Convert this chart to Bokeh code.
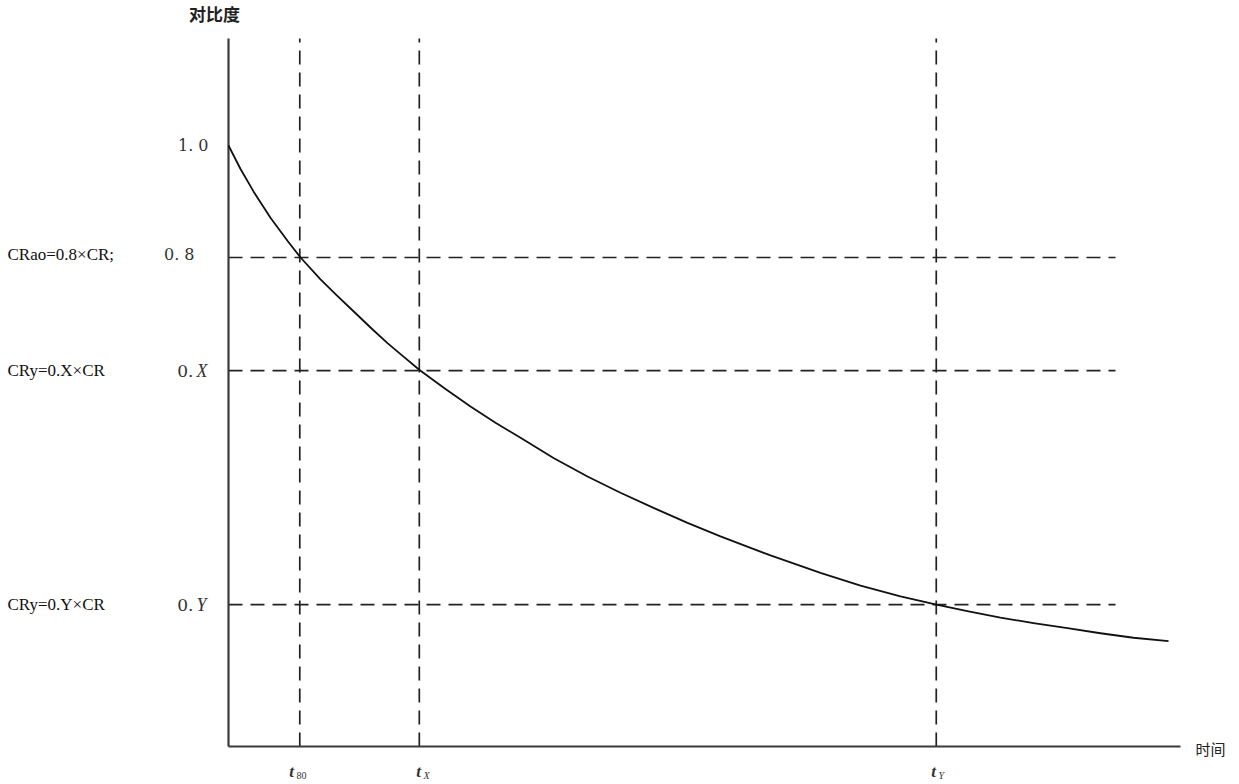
from bokeh.plotting import figure
from bokeh.models import Range1d
from bokeh.core.properties import value
from bokeh.embed import file_html
from bokeh.resources import INLINE

# ---- data ----
curve_t = [0.0, 0.167, 0.347, 0.583, 0.819, 1.0, 1.278, 1.5, 1.736, 1.972, 2.208, 2.431,
           2.653, 3.014, 3.361, 3.708, 4.056, 4.514, 4.986, 5.444, 5.903, 6.375, 6.833,
           7.528, 8.222, 8.778, 9.333, 9.833, 10.278, 10.722, 11.181, 11.653, 12.111,
           12.569, 13.056]
curve_c = [1.0, 0.958, 0.918, 0.871, 0.830, 0.800, 0.761, 0.733, 0.704, 0.675, 0.647,
           0.623, 0.599, 0.565, 0.534, 0.505, 0.478, 0.442, 0.409, 0.380, 0.353, 0.326,
           0.302, 0.268, 0.237, 0.214, 0.195, 0.180, 0.168, 0.157, 0.147, 0.138, 0.129,
           0.121, 0.115]
level_values = [0.8, 0.598, 0.180]          # 0.8, 0.X, 0.Y
level_tick_main = ["0. 8", "0.", "0."]
level_tick_ital = ["", "X", "Y"]
level_names = ["CRao=0.8×CR;", "CRy=0.X×CR", "CRy=0.Y×CR"]
time_values = [0.99, 2.65, 9.83]        # t80, tX, tY
time_subs = ["80", "X", "Y"]
top_label = "1. 0"
x_title = "时间"
y_title = "对比度"

# ---- layout helpers (picture pixel -> data) ----
def dx(px):
    return (px - 228) / 72.0

def dy(py):
    return 1.0 - (py - 145) / 560.0

W, H = 1239, 784
p = figure(width=W, height=H, output_backend="svg", toolbar_location=None,
           x_range=Range1d(dx(0), dx(W)), y_range=Range1d(dy(H), dy(0)),
           min_border=0, outline_line_color=None)
p.axis.visible = False
p.grid.visible = False
p.background_fill_color = "white"

y_axis_bottom = dy(746)
y_axis_top = dy(38)

# dashed guide lines
for v in level_values:
    p.line([0, dx(1115)], [v, v], line_color="#222222", line_width=1.7, line_dash="14 8")
for t in time_values:
    p.line([t, t], [y_axis_bottom, y_axis_top], line_color="#222222", line_width=1.7,
           line_dash="14 8")

# axes
p.line([0, 0], [y_axis_bottom, y_axis_top], line_color="#3a3a3a", line_width=2.2)
p.line([0, dx(1180)], [y_axis_bottom, y_axis_bottom], line_color="#3a3a3a", line_width=2.2)

# curve
p.line(curve_t, curve_c, line_color="#111111", line_width=1.8, line_join="round")

serif = value("DejaVu Serif")
times = value("Liberation Serif")

# tick labels on y
p.text([dx(208)], [1.0], text=[top_label], text_font=serif, text_font_size="16px",
       text_align="right", text_baseline="middle", text_color="#333333")
p.text([dx(194)], [dy(254)], text=[level_tick_main[0]], text_font=serif,
       text_font_size="16px", text_align="right", text_baseline="middle", text_color="#333333")
for i in (1, 2):
    v = level_values[i]
    p.text([dx(193)], [v], text=[level_tick_main[i]], text_font=serif, text_font_size="17px",
           text_align="right", text_baseline="middle", text_color="#333333")
    p.text([dx(196)], [v], text=[level_tick_ital[i]], text_font=times, text_font_size="18px",
           text_font_style="italic", text_align="left", text_baseline="middle",
           text_color="#333333")

# left names
for i, v in enumerate(level_values):
    yy = dy(254) if i == 0 else v
    p.text([dx(7)], [yy], text=[level_names[i]], text_font=times, text_font_size="17px",
           text_align="left", text_baseline="middle", text_color="#111111")

# time labels
t_pos = [(291, 296), (418, 423), (933, 938)]
for i, t in enumerate(time_values):
    tp, sp = t_pos[i]
    p.text([dx(tp)], [dy(771)], text=["t"], text_font=times, text_font_size="17px",
           text_font_style="bold italic", text_align="center", text_baseline="middle",
           text_color="#333333")
    p.text([dx(sp)], [dy(775)], text=[time_subs[i]], text_font=times, text_font_size="10px",
           text_font_style="italic" if time_subs[i] != "80" else "normal",
           text_align="left", text_baseline="middle", text_color="#333333")

# axis titles
p.text([dx(1195)], [dy(748)], text=[x_title], text_font=value("Noto Sans CJK SC"),
       text_font_size="15px", text_align="left", text_baseline="middle", text_color="#222222")
p.text([dx(214)], [dy(13)], text=[y_title], text_font=value("Noto Sans CJK SC"),
       text_font_size="17px", text_font_style="bold", text_align="center",
       text_baseline="middle", text_color="#222222")

open("out.html", "w").write(file_html(p, INLINE))
